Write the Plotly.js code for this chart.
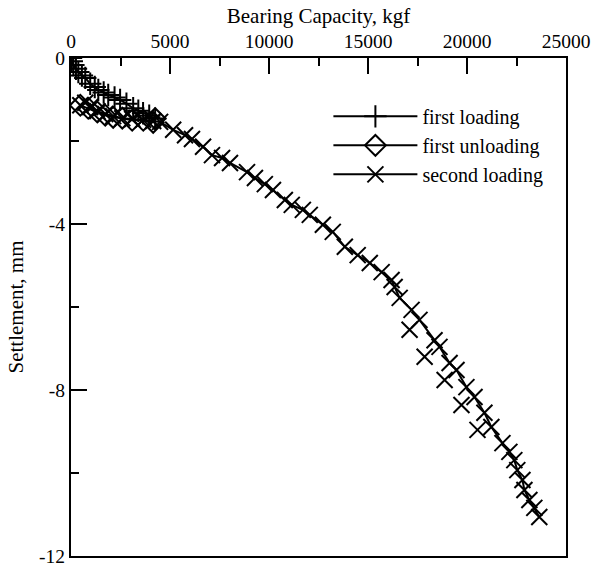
<!DOCTYPE html>
<html>
<head>
<meta charset="utf-8">
<script src="https://cdn.plot.ly/plotly-3.0.1.min.js"></script>
<style>html,body{margin:0;padding:0;background:#fff;}#chart{width:595px;height:568px;}</style>
</head>
<body>
<div id="chart"></div>
<script>
// first loading (load kgf, settlement mm)
const firstLoadX = [0, 40, 120, 250, 370, 550, 720, 970, 1200, 1380, 1650, 1880, 2200, 2480, 2800, 3140, 3400, 3640, 3950, 4250];
const firstLoadY = [0, -0.08, -0.17, -0.26, -0.34, -0.42, -0.48, -0.62, -0.70, -0.77, -0.83, -0.89, -0.95, -1.01, -1.10, -1.21, -1.27, -1.33, -1.39, -1.46];
// first unloading
const firstUnloadX = [4250, 4150, 3650, 3090, 2590, 2130, 1730, 1330, 870, 470];
const firstUnloadY = [-1.46, -1.55, -1.50, -1.50, -1.45, -1.43, -1.38, -1.30, -1.21, -1.14];
// second loading (main readings)
const secondLoadX = [470, 720, 970, 1330, 1730, 2130, 2590, 3090, 3640, 4150, 4500, 5160, 5760, 6110, 6670, 7120, 7630, 8030, 8890, 9290, 9790, 10200, 10800, 11150, 11710, 12060, 12720, 13220, 13830, 14480, 15090, 15690, 16190, 16345, 16600, 17200, 17600, 18360, 18610, 19120, 19470, 19970, 20380, 20880, 21230, 21790, 22140, 22390, 22540, 22800, 22900, 23150, 23400, 23650];
const secondLoadY = [-1.14, -1.08, -1.18, -1.28, -1.35, -1.40, -1.45, -1.47, -1.49, -1.52, -1.54, -1.73, -1.86, -1.95, -2.14, -2.34, -2.41, -2.53, -2.75, -2.89, -3.04, -3.18, -3.42, -3.54, -3.66, -3.78, -4.02, -4.19, -4.55, -4.75, -4.94, -5.16, -5.35, -5.52, -5.78, -6.07, -6.31, -6.80, -6.96, -7.35, -7.52, -7.93, -8.17, -8.55, -8.89, -9.28, -9.49, -9.69, -9.93, -10.17, -10.41, -10.65, -10.84, -11.06];
// second loading (creep readings, load relaxed at hold)
const secondCreepX = [17100, 17860, 18870, 19720, 20530];
const secondCreepY = [-6.55, -7.20, -7.76, -8.36, -8.96];

const seriesNames = ['first loading', 'first unloading', 'second loading'];
const xTickVals = [0, 5000, 10000, 15000, 20000, 25000];
const xTickText = ['0', '5000', '10000', '15000', '20000', '25000'];
const xMinorVals = [2500, 7500, 12500, 17500, 22500];
const yTickVals = [0, -4, -8, -12];
const yTickText = ['0', '-4', '-8', '-12'];
const yMinorVals = [-2, -6, -10];

const FONT = 'Liberation Serif, Times New Roman, serif';

function tr(x, y, name, symbol, size) {
  return {
    x: x, y: y, name: name, type: 'scatter', mode: 'lines+markers',
    legendgroup: name,
    line: {color: '#000', width: 2},
    marker: {symbol: symbol, size: size, color: '#000', line: {color: '#000', width: 2}}
  };
}

const creep = {
  x: secondCreepX, y: secondCreepY, name: seriesNames[2], type: 'scatter', mode: 'markers',
  legendgroup: seriesNames[2], showlegend: false,
  marker: {symbol: 'x-thin-open', size: 16, color: '#000', line: {color: '#000', width: 2}}
};

const data = [
  tr(firstLoadX, firstLoadY, seriesNames[0], 'cross-thin-open', 16),
  tr(firstUnloadX, firstUnloadY, seriesNames[1], 'diamond-open', 16),
  tr(secondLoadX, secondLoadY, seriesNames[2], 'x-thin-open', 16),
  creep
];

const layout = {
  width: 595, height: 568,
  margin: {l: 70.5, r: 28.5, t: 58, b: 12},
  paper_bgcolor: '#fff', plot_bgcolor: '#fff',
  font: {family: FONT, size: 20, color: '#000'},
  showlegend: true,
  legend: {
    x: 0.52, y: 0.922, xanchor: 'left', yanchor: 'top',
    bgcolor: 'rgba(0,0,0,0)', itemwidth: 84,
    font: {family: FONT, size: 20, color: '#000'},
    tracegroupgap: 0
  },
  xaxis: {
    side: 'top', range: [0, 25000], showgrid: false, zeroline: false,
    showline: true, linecolor: '#000', linewidth: 2, mirror: true,
    ticks: 'inside', ticklen: 16, tickwidth: 2, tickcolor: '#000',
    tickmode: 'array', tickvals: xTickVals, ticktext: xTickText,
    minor: {ticks: 'inside', ticklen: 8, tickwidth: 2, tickcolor: '#000', tickvals: xMinorVals, showgrid: false},
    tickfont: {family: FONT, size: 19.5, color: '#000'},
    title: {text: 'Bearing Capacity, kgf', font: {family: FONT, size: 21, color: '#000'}, standoff: 2}
  },
  yaxis: {
    range: [-12, 0], showgrid: false, zeroline: false,
    showline: true, linecolor: '#000', linewidth: 2, mirror: true,
    ticks: 'inside', ticklen: 16, tickwidth: 2, tickcolor: '#000',
    tickmode: 'array', tickvals: yTickVals, ticktext: yTickText,
    minor: {ticks: 'inside', ticklen: 8, tickwidth: 2, tickcolor: '#000', tickvals: yMinorVals, showgrid: false},
    tickfont: {family: FONT, size: 19.5, color: '#000'},
    title: {text: 'Settlement, mm', font: {family: FONT, size: 21, color: '#000'}, standoff: 10}
  }
};

Plotly.newPlot('chart', data, layout, {displayModeBar: false, staticPlot: true});
</script>
</body>
</html>
